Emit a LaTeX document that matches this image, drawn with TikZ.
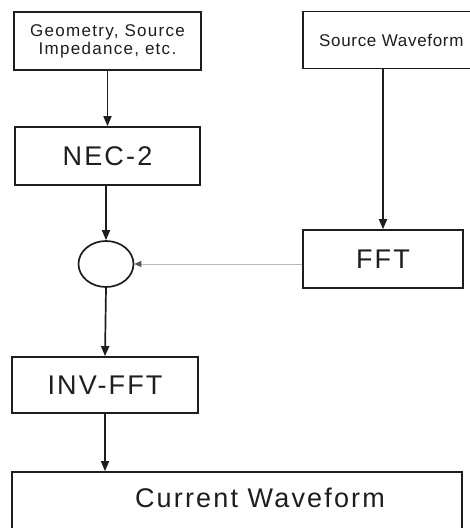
\documentclass[tikz,border=0pt]{standalone}
\usepackage{fontspec}
\setmainfont{Liberation Sans}
\newfontfamily\smallf[LetterSpace=7.5]{Liberation Sans}
\newfontfamily\tightf[LetterSpace=4]{Liberation Sans}
\newfontfamily\bigf[LetterSpace=8]{Liberation Sans}
\usetikzlibrary{arrows.meta,shapes.geometric}
\definecolor{ink}{HTML}{1E1E1E}
\definecolor{faint}{HTML}{B8B8B8}
\begin{document}
\begin{tikzpicture}[x=1pt,y=-1pt,
  box/.style={draw=ink, line width=1.7pt, inner sep=0pt, text=ink},
  smalltext/.style={font=\smallf\fontsize{17}{18}\selectfont, align=center},
  bigtext/.style={font=\bigf\fontsize{27}{30}\selectfont},
  flow/.style={draw=ink, line width=1.7pt, -{Triangle[length=10pt,width=8pt]}},
  weak/.style={draw=faint, line width=1pt, -{Triangle[length=7pt,width=6pt,color=ink!75]}}]
\useasboundingbox[fill=white] (0,0) rectangle (470,528);

\node[box, smalltext, minimum width=187pt, minimum height=58pt] (geo) at (107.5,41) {Geometry, Source\\Impedance, etc.};
\node[box, minimum width=188pt, minimum height=57pt] (src) at (397,40) {};
\node[font=\tightf\fontsize{17}{18}\selectfont, text=ink, anchor=west, inner sep=0pt] (srctext) at (319,40) {Source Waveform};
\node[box, bigtext, minimum width=185pt, minimum height=58pt] (nec) at (107.5,156) {NEC-2};
\node[box, bigtext, minimum width=160pt, minimum height=58pt] (fft) at (383,259) {FFT};
\node[draw=ink, line width=1.7pt, ellipse, inner sep=0pt, minimum width=55pt, minimum height=46pt] (sum) at (106,264) {};
\node[box, bigtext, minimum width=186pt, minimum height=56pt] (inv) at (105,385) {INV-FFT};
\node[box, minimum width=450pt, minimum height=73pt] (cw) at (237,508.5) {};
\node[bigtext, text=ink] (cwtext) at (260,498) {Current Waveform};

\coordinate (srcout) at (src.south -| fft.north);
\coordinate (necout) at (nec.south -| sum.north);
\coordinate (fftout) at (fft.west |- sum.east);
\coordinate (cwin) at (cw.north -| inv.south);

\draw[flow] (geo.south) -- (nec.north);
\draw[flow] (srcout) -- (fft.north);
\draw[flow] (necout) -- (sum.north);
\draw[weak] (fftout) -- (sum.east);
\draw[flow] (sum.south) -- (inv.north);
\draw[flow] (inv.south) -- (cwin);
\end{tikzpicture}
\end{document}
